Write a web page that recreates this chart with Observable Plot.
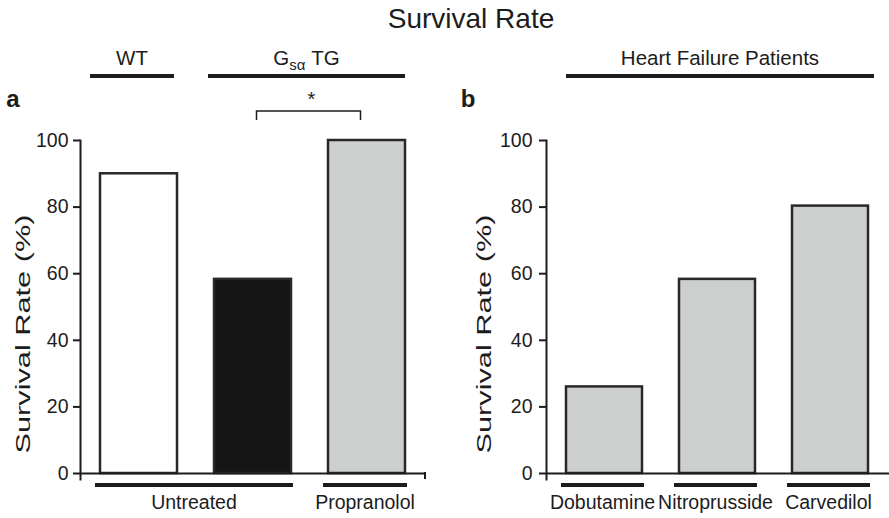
<!DOCTYPE html>
<html><head><meta charset="utf-8">
<script src="https://cdn.jsdelivr.net/npm/d3@7"></script>
<script src="https://cdn.jsdelivr.net/npm/@observablehq/plot@0.6"></script>
<style>
html,body{margin:0;padding:0;background:#fff;}
#wrap{position:relative;width:889px;height:518px;overflow:hidden;font-family:"Liberation Sans",Arial,Helvetica,sans-serif;color:#1c1c1c;}
#title{position:absolute;top:5px;left:471px;transform:translateX(-50%);font-size:28px;line-height:28px;white-space:nowrap;}
#wrap svg{position:absolute;top:0;}
</style></head><body>
<div id="wrap"><div id="title">Survival Rate</div></div>
<script>
// ---- data (panel a: mice) ----
const categoriesA = ["WT", "Gsα TG Untreated", "Gsα TG Propranolol"];
const survivalA = [90, 58.3, 100];
const genotypeLabelsA = ["WT", "Gsα TG"];
const genotypeMembersA = [["WT"], ["Gsα TG Untreated", "Gsα TG Propranolol"]];
const treatmentLabelsA = ["Untreated", "Propranolol"];
const treatmentMembersA = [["WT", "Gsα TG Untreated"], ["Gsα TG Propranolol"]];
const significancePairA = ["Gsα TG Untreated", "Gsα TG Propranolol"];
const significanceMark = "*";

// ---- data (panel b: heart failure patients) ----
const categoriesB = ["Dobutamine", "Nitroprusside", "Carvedilol"];
const survivalB = [26, 58.3, 80.3];
const cohortLabelsB = ["Heart Failure Patients"];
const cohortMembersB = [["Dobutamine", "Carvedilol"]];
const treatmentLabelsB = ["Dobutamine", "Nitroprusside", "Carvedilol"];
const treatmentMembersB = [["Dobutamine"], ["Nitroprusside"], ["Carvedilol"]];

const yTicks = [0, 20, 40, 60, 80, 100];
const yLabel = "Survival Rate (%)";

const INK = "#1c1c1c";
const FONT = '"Liberation Sans", Arial, Helvetica, sans-serif';

function panel(o) {
  const data = o.cats.map((c, i) => ({cat: c, value: o.values[i]}));
  const chart = Plot.plot({
    width: o.width, height: 518,
    marginTop: 140, marginBottom: 45, marginLeft: o.marginLeft, marginRight: o.marginRight,
    style: {fontFamily: FONT, fontSize: "19.5px", color: INK, background: "transparent", overflow: "visible"},
    x: {domain: o.cats, paddingInner: 0.325, paddingOuter: 0.17, axis: null},
    y: {domain: [0, 100], axis: null},
    color: {domain: o.cats, range: o.fills},
    marks: [
      Plot.barY(data, {x: "cat", y: "value", fill: "cat", stroke: "#282828", strokeWidth: 2.5}),
      Plot.ruleY([0], {stroke: INK, strokeWidth: 2}),
      Plot.axisY({ticks: yTicks, tickSize: 7, tickPadding: o.tickPadding, stroke: INK, strokeWidth: 2, label: null}),
      Plot.frame({anchor: "left", stroke: INK, strokeWidth: 2, insetBottom: -6}),
      Plot.text([yLabel], {text: d => d, frameAnchor: "left", rotate: -90, textAnchor: "start", dx: o.yLabelDx, dy: 146.5, fontSize: 21, fill: INK})
    ]
  });
  chart.style.left = o.left + "px";
  const svg = d3.select(chart);
  svg.selectAll('g[aria-label="text"] text').attr("textLength", 239).attr("lengthAdjust", "spacingAndGlyphs");
  const xs = chart.scale("x"), ys = chart.scale("y");
  const bw = xs.bandwidth;
  const X = c => xs.apply(c);
  const y100 = ys.apply(100), y0 = ys.apply(0);
  const g = svg.append("g").attr("fill", INK);

  // header group lines and labels
  o.headers.forEach((lab, i) => {
    const m = o.headerMembers[i], [dl, dr] = o.headerOffsets[i];
    const x1 = X(m[0]) + dl, x2 = X(m[m.length - 1]) + bw + dr;
    g.append("line").attr("x1", x1).attr("x2", x2).attr("y1", y100 - 64).attr("y2", y100 - 64)
      .attr("stroke", INK).attr("stroke-width", 4);
    const t = g.append("text").attr("x", (x1 + x2) / 2).attr("y", y100 - 75)
      .attr("text-anchor", "middle").attr("font-size", 20.5);
    const sub = lab.match(/^G(sα)(.*)$/);
    if (sub) {
      t.append("tspan").text("G");
      t.append("tspan").attr("font-size", 15).attr("dy", 5).text(sub[1]);
      t.append("tspan").attr("dy", -5).text(sub[2]);
    } else t.text(lab);
  });

  // treatment under-bars and labels
  o.treatments.forEach((lab, i) => {
    const m = o.treatmentMembers[i];
    const x1 = X(m[0]) - 5, x2 = X(m[m.length - 1]) + bw + 2;
    g.append("line").attr("x1", x1).attr("x2", x2).attr("y1", y0 + 12).attr("y2", y0 + 12)
      .attr("stroke", INK).attr("stroke-width", 4);
    g.append("text").attr("x", (x1 + x2) / 2).attr("y", y0 + 36)
      .attr("text-anchor", "middle").attr("font-size", 19.5).text(lab);
  });

  // panel letter
  g.append("text").attr("x", o.letterX).attr("y", y100 - 33).attr("font-size", 24)
    .attr("font-weight", "bold").text(o.letter);

  if (o.rightTick) {
    const xr = o.width - o.marginRight;
    g.append("line").attr("x1", xr).attr("x2", xr).attr("y1", y0 - 1).attr("y2", y0 + 6)
      .attr("stroke", INK).attr("stroke-width", 2);
  }

  if (o.bracket) {
    const [a, b] = o.bracket;
    const xa = X(a) + bw / 2 + 4, xb = X(b) + bw / 2 - 6;
    g.append("path").attr("d", `M${xa},${y100 - 20}V${y100 - 29}H${xb}V${y100 - 20}`)
      .attr("fill", "none").attr("stroke", INK).attr("stroke-width", 1.5);
    g.append("text").attr("x", (xa + xb) / 2 + 3).attr("y", y100 - 34)
      .attr("text-anchor", "middle").attr("font-size", 20).text(significanceMark);
  }
  return chart;
}

const wrap = document.getElementById("wrap");
wrap.appendChild(panel({
  cats: categoriesA, values: survivalA, fills: ["#ffffff", "#151515", "#cdcfce"],
  width: 445, left: 0, marginLeft: 80, marginRight: 20, tickPadding: 5, yLabelDx: -57,
  headers: genotypeLabelsA, headerMembers: genotypeMembersA, headerOffsets: [[-10, -3], [-6, 0]],
  treatments: treatmentLabelsA, treatmentMembers: treatmentMembersA,
  letter: "a", letterX: 13, rightTick: true, bracket: significancePairA
}));
wrap.appendChild(panel({
  cats: categoriesB, values: survivalB, fills: ["#cdcfce", "#cdcfce", "#cdcfce"],
  width: 444, left: 445, marginLeft: 101, marginRight: 0, tickPadding: 7, yLabelDx: -62,
  headers: cohortLabelsB, headerMembers: cohortMembersB, headerOffsets: [[0, 6]],
  treatments: treatmentLabelsB, treatmentMembers: treatmentMembersB,
  letter: "b", letterX: 23, rightTick: false, bracket: null
}));
</script>
</body></html>
